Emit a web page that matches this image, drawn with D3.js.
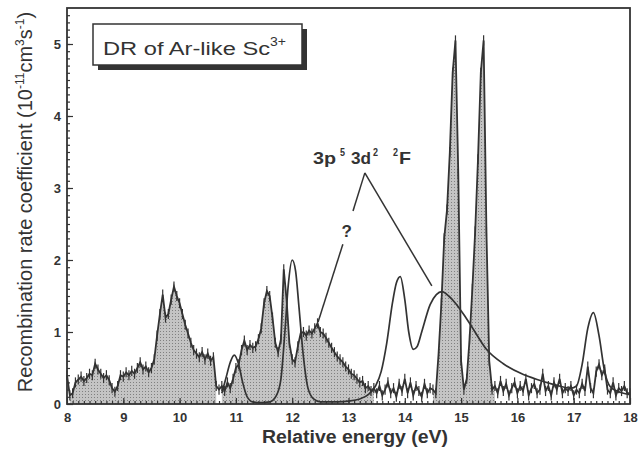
<!DOCTYPE html>
<html>
<head>
<meta charset="utf-8">
<script src="https://cdn.jsdelivr.net/npm/d3@7"></script>
<style>
  body { margin: 0; background: #fff; }
  text { font-family: Arial, "Liberation Sans", sans-serif; fill: #333; }
</style>
</head>
<body>
<div id="chart"></div>
<script>
// Experimental spectrum, one value every 0.05 eV from 8.00 to 18.00 eV
var energyStart = 8, energyStep = 0.05;
var rate = [
  0.40,0.12,0.15,0.30,0.34,0.38,0.32,0.36,0.42,0.40,0.56,0.48,0.42,0.36,0.40,0.33,0.22,0.17,0.25,0.40,
  0.38,0.44,0.40,0.46,0.42,0.50,0.58,0.48,0.52,0.44,0.50,0.62,0.95,1.25,1.52,1.20,1.25,1.45,1.63,1.50,
  1.40,1.25,1.10,0.98,0.85,0.75,0.70,0.65,0.72,0.62,0.70,0.60,0.65,0.25,0.20,0.25,0.18,0.30,0.22,0.35,
  0.50,0.55,0.75,0.88,0.75,0.82,0.78,0.80,0.90,1.05,1.40,1.57,1.50,1.20,0.85,0.72,0.90,1.87,1.45,0.85,
  0.62,0.58,0.80,0.98,1.00,0.95,1.02,0.98,1.05,1.12,1.00,0.98,0.92,0.85,0.78,0.72,0.66,0.62,0.58,0.52,
  0.48,0.42,0.40,0.35,0.30,0.32,0.22,0.25,0.18,0.22,0.15,0.25,0.12,0.20,0.30,0.15,0.22,0.10,0.28,0.18,
  0.35,0.15,0.30,0.12,0.25,0.18,0.10,0.28,0.15,0.22,0.20,0.15,0.70,1.40,2.30,2.70,3.50,4.60,5.05,3.20,
  0.60,0.20,0.35,0.90,1.60,2.40,3.40,4.60,5.05,2.40,0.60,0.20,0.25,0.15,0.32,0.18,0.28,0.12,0.22,0.30,
  0.15,0.25,0.18,0.35,0.12,0.22,0.28,0.15,0.20,0.42,0.18,0.25,0.12,0.30,0.20,0.35,0.15,0.22,0.18,0.25,
  0.12,0.20,0.15,0.28,0.18,0.52,0.22,0.15,0.45,0.55,0.40,0.48,0.20,0.15,0.30,0.12,0.22,0.18,0.25,0.15,
  0.15
];
var errorBar = 0.07;
// energy ranges where the spectrum is shaded
var shadedRanges = [[8.05, 10.65], [10.75, 13.45], [14.5, 15.6]];

// theoretical curve
var theoryEnergy = [10.75,10.82,10.9,10.97,11.05,11.12,11.2,11.3,11.45,11.6,11.72,11.8,11.87,11.93,12.0,12.06,12.12,12.2,12.28,12.38,12.5,12.8,13.0,13.2,13.35,13.48,13.58,13.68,13.78,13.85,13.92,14.0,14.07,14.15,14.22,14.3,14.45,14.56,14.66,14.78,14.9,15.05,15.2,15.45,15.75,16.05,16.35,16.65,16.95,17.05,17.15,17.25,17.35,17.45,17.55,17.65,17.8,18.0];
var theoryRate   = [0.15,0.35,0.58,0.68,0.55,0.30,0.10,0.03,0.02,0.03,0.12,0.35,1.00,1.65,2.00,1.85,1.35,0.65,0.22,0.07,0.03,0.03,0.04,0.07,0.13,0.25,0.45,0.85,1.40,1.68,1.77,1.45,1.00,0.76,0.80,1.00,1.38,1.52,1.56,1.50,1.40,1.24,1.06,0.76,0.56,0.43,0.34,0.27,0.22,0.25,0.55,1.05,1.27,0.95,0.45,0.24,0.17,0.13];

var xTicks = [8, 9, 10, 11, 12, 13, 14, 15, 16, 17, 18];
var yTicks = [0, 1, 2, 3, 4, 5];

var width = 644, height = 455;
var svg = d3.select("#chart").append("svg").attr("width", width).attr("height", height);

var x = d3.scaleLinear().domain([8, 18]).range([67, 630]);
var y = d3.scaleLinear().domain([0, 5.5]).range([404, 8]);

var data = rate.map(function (v, i) { return { e: energyStart + i * energyStep, v: v }; });

// stippled gray fill
var pat = svg.append("defs").append("pattern")
  .attr("id", "stipple").attr("width", 3).attr("height", 3)
  .attr("patternUnits", "userSpaceOnUse");
pat.append("rect").attr("width", 3).attr("height", 3).attr("fill", "#c4c4c4");
pat.append("rect").attr("x", 1).attr("y", 1).attr("width", 1).attr("height", 1).attr("fill", "#808080");

var area = d3.area().x(function (d) { return x(d.e); }).y0(y(0)).y1(function (d) { return y(d.v); });
shadedRanges.forEach(function (r) {
  var part = data.filter(function (d) { return d.e >= r[0] - 1e-6 && d.e <= r[1] + 1e-6; });
  svg.append("path").datum(part).attr("d", area).attr("fill", "url(#stipple)");
});

// theory
var theory = theoryEnergy.map(function (e, i) { return { e: e, v: theoryRate[i] }; });
svg.append("path").datum(theory)
  .attr("d", d3.line().curve(d3.curveMonotoneX).x(function (d) { return x(d.e); }).y(function (d) { return y(d.v); }))
  .attr("fill", "none").attr("stroke", "#333").attr("stroke-width", 1.7);

// experiment
svg.append("path").datum(data)
  .attr("d", d3.line().x(function (d) { return x(d.e); }).y(function (d) { return y(d.v); }))
  .attr("fill", "none").attr("stroke", "#333").attr("stroke-width", 1.8);
svg.append("g").selectAll("line").data(data).enter().append("line")
  .attr("x1", function (d) { return x(d.e); }).attr("x2", function (d) { return x(d.e); })
  .attr("y1", function (d) { return y(d.v + errorBar); })
  .attr("y2", function (d) { return y(Math.max(0, d.v - errorBar)); })
  .attr("stroke", "#333").attr("stroke-width", 1.2);

// axes
svg.append("g").attr("transform", "translate(0," + y(0) + ")")
  .call(d3.axisBottom(x).tickValues(xTicks).tickSize(-6).tickPadding(9).tickFormat(d3.format("d")));
svg.append("g").attr("transform", "translate(0," + y(0) + ")")
  .call(d3.axisBottom(x).tickValues(d3.range(81, 180).map(function (d) { return d / 10; })).tickSize(-3).tickFormat(""));
svg.append("g").attr("transform", "translate(" + x(8) + ",0)")
  .call(d3.axisLeft(y).tickValues(yTicks).tickSize(-6).tickPadding(6).tickFormat(d3.format("d")));
svg.append("g").attr("transform", "translate(" + x(8) + ",0)")
  .call(d3.axisLeft(y).tickValues(d3.range(1, 55).map(function (d) { return d / 10; })).tickSize(-3).tickFormat(""));
svg.selectAll(".domain").remove();
svg.selectAll(".tick line").attr("stroke", "#333").attr("stroke-width", 1.2);
svg.selectAll(".tick text").attr("font-size", 13).attr("font-weight", "bold").attr("fill", "#333")
  .style("font-family", "Arial, 'Liberation Sans', sans-serif");

svg.append("rect").attr("x", x(8)).attr("y", y(5.5))
  .attr("width", x(18) - x(8)).attr("height", y(0) - y(5.5))
  .attr("fill", "none").attr("stroke", "#333").attr("stroke-width", 1.8);

// axis titles
svg.append("text").attr("x", 262).attr("y", 443)
  .attr("font-size", 18).attr("font-weight", "bold")
  .attr("textLength", 186).attr("lengthAdjust", "spacingAndGlyphs")
  .text("Relative energy (eV)");

var yt = svg.append("text").attr("transform", "translate(32,202) rotate(-90)")
  .attr("text-anchor", "middle").attr("font-size", 20);
yt.append("tspan").text("Recombination rate coefficient (10");
yt.append("tspan").attr("dy", -8).attr("font-size", 12).text("-11");
yt.append("tspan").attr("dy", 8).text("cm");
yt.append("tspan").attr("dy", -8).attr("font-size", 12).text("3");
yt.append("tspan").attr("dy", 8).text("s");
yt.append("tspan").attr("dy", -8).attr("font-size", 12).text("-1");
yt.append("tspan").attr("dy", 8).text(")");

// title box with shadow
svg.append("rect").attr("x", 98).attr("y", 29).attr("width", 209).attr("height", 41).attr("fill", "#333");
svg.append("rect").attr("x", 93).attr("y", 24).attr("width", 209).attr("height", 41)
  .attr("fill", "#fff").attr("stroke", "#333").attr("stroke-width", 1.5);
var tt = svg.append("text").attr("x", 103).attr("y", 55).attr("font-size", 18);
tt.append("tspan").attr("textLength", 167).attr("lengthAdjust", "spacingAndGlyphs").text("DR of Ar-like Sc");
tt.append("tspan").attr("dy", -9).attr("font-size", 12).attr("textLength", 16)
  .attr("lengthAdjust", "spacingAndGlyphs").text("3+");

// annotations: term label pieces, offsets in px from the label anchor
var termPieces = [
  { t: "3p", dx: 0,  len: 23, sup: false },
  { t: "5",  dx: 27, len: 5,  sup: true },
  { t: "3d", dx: 38, len: 20, sup: false },
  { t: "2",  dx: 60, len: 5,  sup: true },
  { t: "2",  dx: 80, len: 5,  sup: true },
  { t: "F",  dx: 86, len: 12, sup: false }
];
var ax = x(12.37), ay = y(3.33);
termPieces.forEach(function (p) {
  svg.append("text").attr("x", ax + p.dx).attr("y", p.sup ? ay - 8 : ay)
    .attr("font-size", p.sup ? 10 : 17).attr("font-weight", "bold")
    .attr("textLength", p.len).attr("lengthAdjust", "spacingAndGlyphs").text(p.t);
});

svg.append("text").attr("x", x(12.97)).attr("y", y(2.32)).attr("text-anchor", "middle")
  .attr("font-size", 17).attr("font-weight", "bold").text("?");

var segs = [
  [[13.29, 3.21], [13.08, 2.68]],
  [[12.9, 2.22], [12.46, 1.14]],
  [[13.29, 3.21], [14.48, 1.64]]
];
segs.forEach(function (s) {
  svg.append("line")
    .attr("x1", x(s[0][0])).attr("y1", y(s[0][1]))
    .attr("x2", x(s[1][0])).attr("y2", y(s[1][1]))
    .attr("stroke", "#333").attr("stroke-width", 1.5);
});
</script>
</body>
</html>
